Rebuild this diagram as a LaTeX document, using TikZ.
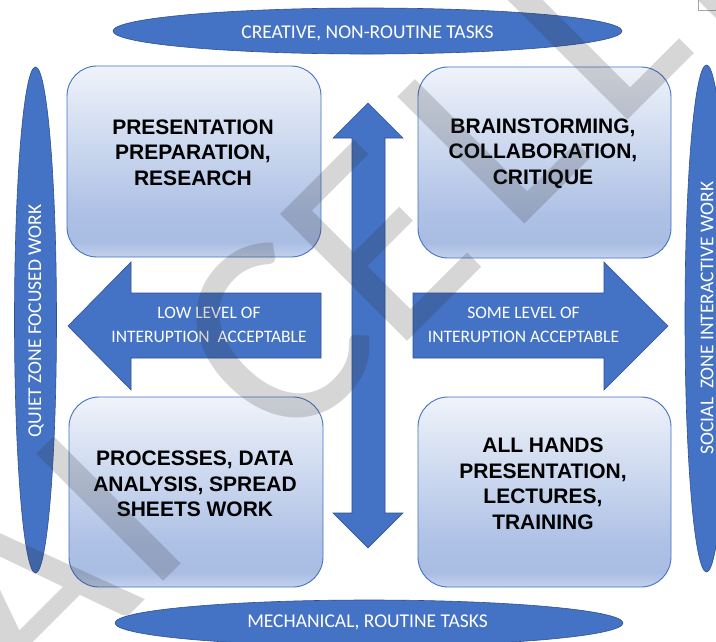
\documentclass[tikz,border=0pt]{standalone}
\usepackage{fontspec}
\setmainfont{Liberation Sans}
\newfontfamily\calfont{Carlito}
\usetikzlibrary{shapes.geometric}
\definecolor{acc}{HTML}{4472C4}
\definecolor{accd}{HTML}{2F528F}
\definecolor{gBot}{HTML}{C3D1ED}
\definecolor{gLow}{HTML}{A9BDE3}
\definecolor{gLowb}{HTML}{ADC0E5}
\definecolor{gTop}{HTML}{EFF3FA}
\definecolor{wmcol}{HTML}{333333}
\definecolor{markcol}{HTML}{A6A6A6}
\pgfdeclareverticalshading{boxshade}{100bp}{color(0bp)=(gBot); color(25bp)=(gBot); color(29bp)=(gLow); color(36bp)=(gLowb); color(75bp)=(gTop); color(100bp)=(gTop)}
\tikzset{
  blueshape/.style={fill=acc, draw=accd, line width=0.6pt},
  elltext/.style={inner sep=0pt, text=white, font=\calfont\fontsize{19.5}{23}\selectfont},
  qbox/.style={rectangle, rounded corners=30pt, shading=boxshade, draw=acc, line width=0.9pt, inner sep=0pt},
  qtext/.style={align=center, inner sep=0pt, font=\bfseries\fontsize{21}{25.5}\selectfont},
  arrowtext/.style={align=center, inner sep=0pt, text=white, font=\calfont\fontsize{17.5}{24}\selectfont},
  wm/.style={anchor=base west, rotate=45, inner sep=0pt, outer sep=0pt, text=wmcol, text opacity=0.2,
    font=\calfont\fontsize{280}{280}\selectfont},
  wmstroke/.style={draw=wmcol, draw opacity=0.2, line width=20pt}
}
\begin{document}
\begin{tikzpicture}[x=1pt,y=-1pt]
\useasboundingbox (0,0) rectangle (716,641);
\clip (0,0) rectangle (716,641);
\fill[white] (0,0) rectangle (716,641);
% ellipses
\draw[blueshape] (367.5,31) ellipse [x radius=254.5pt, y radius=23pt];
\draw[blueshape] (369,623) ellipse [x radius=254pt, y radius=23pt];
\draw[blueshape] (35.5,320) ellipse [x radius=21pt, y radius=253pt];
\draw[blueshape] (706.5,318.5) ellipse [x radius=21.5pt, y radius=253.5pt];
\node (top) [elltext] at (367.5,33) {CREATIVE, NON-ROUTINE TASKS};
\node (bottom) [elltext] at (367.5,622) {MECHANICAL, ROUTINE TASKS};
\node (left) [elltext, rotate=90] at (36,321) {QUIET ZONE FOCUSED WORK};
\node (right) [elltext, rotate=90] at (707,318) {SOCIAL\ \ ZONE INTERACTIVE WORK};
% boxes
\node (tl) [qbox, minimum width=254pt, minimum height=191pt] at (194,161.5) {};
\node (tr) [qbox, minimum width=253pt, minimum height=191pt] at (544.5,162.5) {};
\node (bl) [qbox, minimum width=254pt, minimum height=190pt] at (196,492) {};
\node (br) [qbox, minimum width=253pt, minimum height=190pt] at (544.5,492) {};
\node (tltext) [qtext] at (193,152.5) {PRESENTATION\\PREPARATION,\\RESEARCH};
\node (trtext) [qtext] at (543,153.5) {BRAINSTORMING,\\COLLABORATION,\\CRITIQUE};
\node (bltext) [qtext] at (195,484) {PROCESSES, DATA\\ANALYSIS, SPREAD\\SHEETS WORK};
\node (brtext) [qtext] at (543,484) {ALL HANDS\\PRESENTATION,\\LECTURES,\\TRAINING};
% block arrows
\draw[blueshape] (68,326) -- (131,262) -- (131,293) -- (321,293) -- (321,358) -- (131,358) -- (131,390) -- cycle;
\draw[blueshape] (413,293) -- (604,293) -- (604,262) -- (668,326) -- (604,390) -- (604,358) -- (413,358) -- cycle;
\draw[blueshape] (368,103) -- (403,138) -- (385,138) -- (385,513) -- (403,513) -- (368,548) -- (333,513) -- (352,513) -- (352,138) -- (333,138) -- cycle;
\node (lowtext) [arrowtext] at (209,325) {LOW LEVEL OF\\INTERUPTION\ \ ACCEPTABLE};
\node (sometext) [arrowtext] at (523.5,325) {SOME LEVEL OF\\INTERUPTION ACCEPTABLE};
% corner mark
\draw[markcol, line width=0.8pt] (698,0) -- (698,10) -- (716,10);
% watermark
\node (wA) [wm] at (31,713) {A};
\node (wI) [wm] at (147,597) {I};
\node (wC) [wm] at (285,455) {C};
\node (wE) [wm] at (393,355) {E};
\node (wL) [wm] at (511,237) {L};
\node (wLb) [wm] at (614,133) {L};
\path[wmstroke] (705,-7) -- (730,18);
\end{tikzpicture}
\end{document}
